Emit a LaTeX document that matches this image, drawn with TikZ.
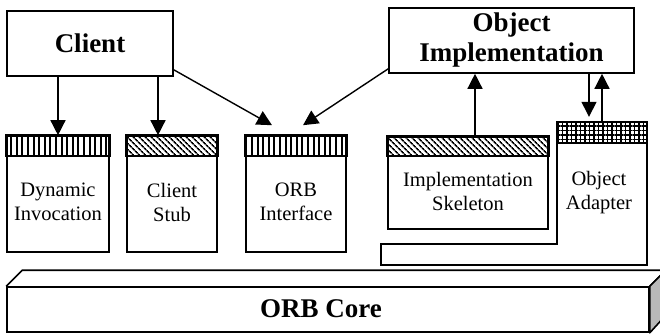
\documentclass[tikz,border=0pt]{standalone}
\usepackage{fontspec}
\setmainfont{Liberation Serif}
\usetikzlibrary{arrows.meta,patterns.meta,calc}
\begin{document}
\begin{tikzpicture}[x=1pt,y=-1pt,
  lw/.style={line width=1.6pt},
  box/.style={draw,line width=1.6pt,inner sep=0pt},
  big/.style={font=\fontsize{27}{30}\selectfont\bfseries,align=center},
  small/.style={font=\fontsize{20.5}{24}\selectfont,align=center},
  arr/.style={line width=1.4pt,-{Triangle[length=15pt,width=15pt]}},
  vstripes/.style={pattern={Lines[angle=90,distance=5.6pt,line width=2pt]}},
  dstripes/.style={pattern={Lines[angle=-45,distance=4pt,line width=1.7pt]}},
  gridpat/.style={pattern={Hatch[angle=0,distance=4.5pt,line width=1.2pt]}},
]
\useasboundingbox (0,0) rectangle (660,333);
\clip (0,0) rectangle (660,333);

% top boxes
\node[box,minimum width=166pt,minimum height=65pt,big] (client) at (90,43.5) {Client};
\node[box,minimum width=245pt,minimum height=65pt,big] (objimpl) at (511.5,40.5) {Object\\Implementation};

% client-side boxes
\node[box,minimum width=102pt,minimum height=116pt] (dyn) at (58,194) {};
\draw[lw,vstripes] (dyn.north west) rectangle ([yshift=-21pt]dyn.north east);
\node[small] (dyntxt) at ([yshift=-8pt]dyn.center) {Dynamic\\Invocation};

\node[box,minimum width=90pt,minimum height=116pt] (stub) at (172,194) {};
\draw[lw,dstripes] (stub.north west) rectangle ([yshift=-21pt]stub.north east);
\node[small] (stubtxt) at ([yshift=-8pt]stub.center) {Client\\Stub};

\node[box,minimum width=100pt,minimum height=116pt] (oif) at (296,194) {};
\draw[lw,vstripes] (oif.north west) rectangle ([yshift=-21pt]oif.north east);
\node[small] (oiftxt) at ([yshift=-8pt]oif.center) {ORB\\Interface};

% server-side
\node[box,minimum width=160pt,minimum height=92pt] (skel) at (468,183) {};
\draw[lw,dstripes] (skel.north west) rectangle ([yshift=-20pt]skel.north east);
\node[small] (skeltxt) at ([yshift=-8pt]skel.center) {Implementation\\Skeleton};

\node[minimum width=90pt,minimum height=122pt,inner sep=0pt] (adapter) at (602,183) {};
\draw[lw] (adapter.north west) -- (adapter.north east) -- ($(adapter.south east)+(0,21)$)
  -- ($(adapter.south west)+(-176,21)$) -- ($(adapter.south west)+(-176,0)$)
  -- (adapter.south west) -- cycle;
\draw[lw,gridpat] (adapter.north west) rectangle ([yshift=-21pt]adapter.north east);
\node[small] (adtxt) at ([xshift=-3pt,yshift=-10pt]adapter.center) {Object\\Adapter};

% ORB core slab
\node[box,minimum width=642pt,minimum height=45pt] (core) at (328,309.5) {};
\draw[lw,line join=round] (core.north west) -- ++(16,-16) -- ($(core.north east)+(16,-16)$) -- (core.north east);
\filldraw[lw,fill=gray!55,line join=round] (core.north east) -- ++(16,-16) -- ++(0,45) -- (core.south east) -- cycle;
\node[big] (coretxt) at ([xshift=-7pt,yshift=1pt]core.center) {ORB Core};

% arrows
\coordinate (stubin) at ([xshift=-14pt]stub.north);
\coordinate (oifl) at ([xshift=-24pt,yshift=10pt]oif.north);
\coordinate (oifr) at ([xshift=7pt,yshift=10pt]oif.north);
\coordinate (skelout) at ([xshift=7pt]skel.north);
\coordinate (adin) at ([xshift=-13pt,yshift=5pt]adapter.north);

\draw[arr] (client.south -| dyn.north) -- (dyn.north);
\draw[arr] (client.south -| stubin) -- (stubin);
\draw[arr] ([yshift=7pt]client.south east) -- (oifl);
\draw[arr] ([yshift=5pt]objimpl.south west) -- (oifr);
\draw[arr] (skelout) -- (skelout |- objimpl.south);
\draw[arr] (adin |- objimpl.south) -- (adin);
\draw[arr] (adapter.north) -- (adapter.north |- objimpl.south);
\end{tikzpicture}
\end{document}
